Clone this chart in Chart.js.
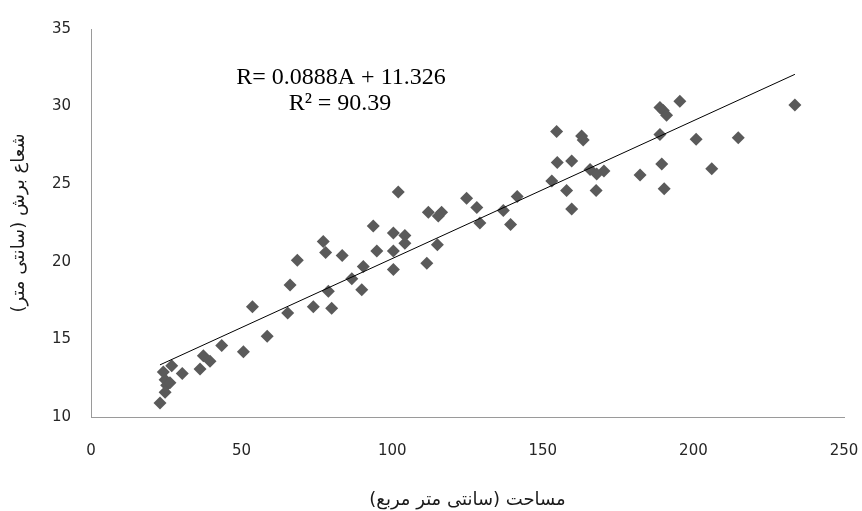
<!DOCTYPE html>
<html>
<head>
<meta charset="utf-8">
<script src="https://cdn.jsdelivr.net/npm/chart.js@4/dist/chart.umd.min.js"></script>
<style>
  html,body{margin:0;padding:0;background:#fff;}
  #wrap{width:862px;height:511px;}
</style>
</head>
<body>
<div id="wrap"><canvas id="c" width="862" height="511"></canvas></div>
<script>
// area (cm2) vs cutting radius (cm)
const areaVals=[22.9,24.0,26.8,24.6,25.1,24.6,26.2,30.3,36.2,37.3,39.5,43.4,50.6,53.6,58.5,65.3,66.1,68.5,73.8,77.1,
  77.9,78.8,79.9,83.4,86.6,90.4,89.9,93.7,94.9,100.4,104.2,104.2,100.4,100.4,102.0,111.5,115.0,112.0,116.4,115.3,
  124.7,128.1,129.1,136.9,139.3,141.5,153.0,154.6,154.8,157.9,159.6,159.6,162.9,163.4,165.7,167.9,170.3,167.7,182.3,189.5,
  190.3,188.9,188.9,190.0,191.1,195.5,200.9,206.1,214.9,233.7];
const radiusVals=[10.9,12.9,13.3,12.4,12.05,11.6,12.2,12.8,13.1,13.95,13.6,14.6,14.2,17.1,15.2,16.7,18.5,20.1,17.1,21.3,
  20.6,18.1,17.0,20.4,18.9,19.7,18.2,22.3,20.7,21.85,21.7,21.2,20.7,19.5,24.5,19.9,21.1,23.2,23.2,22.95,
  24.1,23.5,22.5,23.3,22.4,24.2,25.2,28.4,26.4,24.6,23.4,26.5,28.1,27.85,25.95,25.65,25.85,24.6,25.6,26.3,
  24.7,28.2,29.95,29.75,29.45,30.35,27.9,26.0,28.0,30.1];
const xTicks=[0,50,100,150,200,250];
const yTicks=[10,15,20,25,30,35];
const slope=0.0888, intercept=11.326;
const eqLines=['R= 0.0888A + 11.326','R\u00b2 = 90.39'];
const xTitle='مساحت (سانتی متر مربع)';
const yTitle='شعاع برش (سانتی متر)';

const pts=areaVals.map((a,i)=>({x:a,y:radiusVals[i]}));
const xMin=Math.min(...areaVals), xMax=Math.max(...areaVals);
const trend=[{x:xMin,y:slope*xMin+intercept},{x:xMax,y:slope*xMax+intercept}];

const tickFont={family:'"DejaVu Sans", sans-serif',size:15};
const titleFont={family:'"DejaVu Sans", sans-serif',size:18};

const eqPlugin={
  id:'eq',
  afterDraw(chart){
    const ctx=chart.ctx;
    ctx.save();
    ctx.fillStyle='#000';
    ctx.font='24px "Liberation Serif", serif';
    ctx.textAlign='center';ctx.textBaseline='middle';
    ctx.fillText(eqLines[0],341,78);
    ctx.fillText(eqLines[1],340,104);
    ctx.restore();
  }
};

new Chart(document.getElementById('c'),{
  type:'scatter',
  data:{datasets:[
    {label:'trend',type:'line',data:trend,borderColor:'#000',borderWidth:1,pointRadius:0,fill:false,order:0},
    {label:'data',data:pts,pointStyle:'rectRot',pointRadius:6.5,pointHoverRadius:6.5,
      backgroundColor:'#5a5a5a',borderWidth:0,order:1}
  ]},
  options:{
    responsive:false,animation:false,
    layout:{padding:{top:22,right:0,left:0,bottom:0}},
    plugins:{legend:{display:false},tooltip:{enabled:false}},
    scales:{
      x:{type:'linear',min:0,max:250,
        afterBuildTicks:s=>{s.ticks=xTicks.map(v=>({value:v}));},
        afterFit:s=>{s.height=94;s.paddingRight=18;s.paddingLeft=0;},
        grid:{display:false,drawTicks:false},
        border:{display:true,color:'#9a9a9a',width:1},
        ticks:{font:tickFont,color:'#262626',padding:25,maxRotation:0},
        title:{display:true,text:xTitle,font:titleFont,color:'#1a1a1a',padding:{top:0,bottom:0}}
      },
      y:{type:'linear',min:10,max:35,
        afterBuildTicks:s=>{s.ticks=yTicks.map(v=>({value:v}));},
        afterFit:s=>{s.width=91;},
        grid:{display:false,drawTicks:false},
        border:{display:true,color:'#9a9a9a',width:1},
        ticks:{font:tickFont,color:'#262626',padding:20},
        title:{display:true,text:yTitle,font:titleFont,color:'#1a1a1a',padding:{top:9,bottom:0}}
      }
    }
  },
  plugins:[eqPlugin]
});
</script>
</body>
</html>
